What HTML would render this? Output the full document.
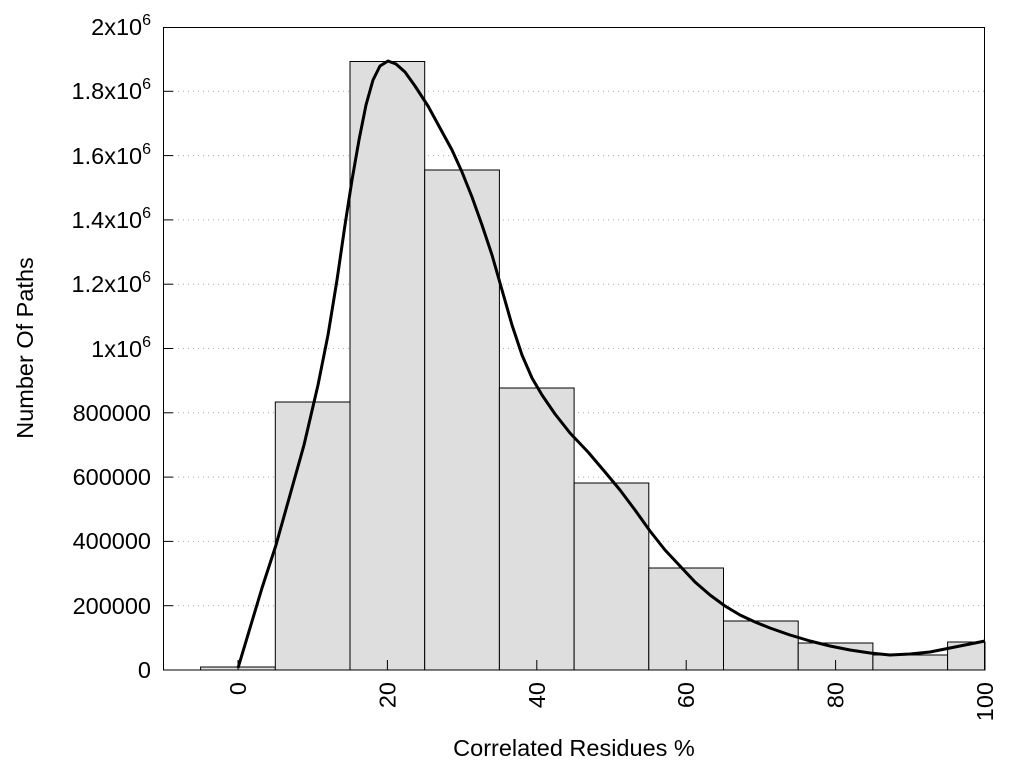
<!DOCTYPE html>
<html><head><meta charset="utf-8"><style>body{margin:0;background:#fff}svg{display:block}text{font-family:"Liberation Sans",sans-serif;fill:#000}</style></head><body>
<svg width="1024" height="768" xmlns="http://www.w3.org/2000/svg">
<g stroke="#aaa" stroke-width="1" stroke-dasharray="1,4">
<line x1="173" y1="605.7" x2="985" y2="605.7"/><line x1="173" y1="541.4" x2="985" y2="541.4"/><line x1="173" y1="477.1" x2="985" y2="477.1"/><line x1="173" y1="412.8" x2="985" y2="412.8"/><line x1="173" y1="348.5" x2="985" y2="348.5"/><line x1="173" y1="284.2" x2="985" y2="284.2"/><line x1="173" y1="219.9" x2="985" y2="219.9"/><line x1="173" y1="155.6" x2="985" y2="155.6"/><line x1="173" y1="91.3" x2="985" y2="91.3"/>
</g>
<g fill="#dedede" stroke="#000" stroke-width="1">
<rect x="200.6" y="667" width="74.7" height="3"/>
<rect x="275.3" y="402" width="74.7" height="268"/>
<rect x="350" y="61.5" width="74.7" height="608.5"/>
<rect x="424.7" y="170" width="74.7" height="500"/>
<rect x="499.4" y="388" width="74.7" height="282"/>
<rect x="574.1" y="483" width="74.7" height="187"/>
<rect x="648.8" y="568" width="74.7" height="102"/>
<rect x="723.5" y="621" width="74.7" height="49"/>
<rect x="798.2" y="643" width="74.7" height="27"/>
<rect x="872.9" y="655" width="74.7" height="15"/>
<rect x="947.6" y="642" width="37.4" height="28"/>
</g>
<polyline fill="none" stroke="#000" stroke-width="3" stroke-linejoin="round" points="238,668 250,628 262,588 276,545 290,495 304,445 318,385 328,335 337,280 345,225 352,180 359,140 366,105 373,80 380,66 388,61 396,64 405,72 415,86 428,106 440,128 452,150 462,172 472,197 482,225 492,255 502,290 512,325 522,355 532,378 542,395 555,414 570,433 588,452 605,472 620,490 635,510 650,531 665,550 680,566 695,582 710,595 725,606 740,615 755,622 770,628 790,635 810,641 830,646 850,650 870,653 890,655 910,654 930,652 950,648 970,644 985,641"/>
<rect x="163.5" y="27.5" width="821" height="642.5" fill="none" stroke="#000" stroke-width="1"/>
<g stroke="#000" stroke-width="1">
<line x1="163" y1="605.7" x2="173" y2="605.7"/><line x1="163" y1="541.4" x2="173" y2="541.4"/><line x1="163" y1="477.1" x2="173" y2="477.1"/><line x1="163" y1="412.8" x2="173" y2="412.8"/><line x1="163" y1="348.5" x2="173" y2="348.5"/><line x1="163" y1="284.2" x2="173" y2="284.2"/><line x1="163" y1="219.9" x2="173" y2="219.9"/><line x1="163" y1="155.6" x2="173" y2="155.6"/><line x1="163" y1="91.3" x2="173" y2="91.3"/>
<line x1="238" y1="670" x2="238" y2="660"/><line x1="387.4" y1="670" x2="387.4" y2="660"/><line x1="536.8" y1="670" x2="536.8" y2="660"/><line x1="686.2" y1="670" x2="686.2" y2="660"/><line x1="835.6" y1="670" x2="835.6" y2="660"/>
</g>
<g font-size="23.5" text-anchor="end">
<text x="151" y="678">0</text>
<text x="151" y="614">200000</text>
<text x="151" y="549">400000</text>
<text x="151" y="485">600000</text>
<text x="151" y="421">800000</text>
<text x="151" y="357">1x10<tspan dy="-10" font-size="16">6</tspan></text>
<text x="151" y="292">1.2x10<tspan dy="-10" font-size="16">6</tspan></text>
<text x="151" y="228">1.4x10<tspan dy="-10" font-size="16">6</tspan></text>
<text x="151" y="164">1.6x10<tspan dy="-10" font-size="16">6</tspan></text>
<text x="151" y="99">1.8x10<tspan dy="-10" font-size="16">6</tspan></text>
<text x="151" y="35">2x10<tspan dy="-10" font-size="16">6</tspan></text>
<text transform="translate(246,682) rotate(-90)">0</text>
<text transform="translate(395.4,682) rotate(-90)">20</text>
<text transform="translate(544.8,682) rotate(-90)">40</text>
<text transform="translate(694.2,682) rotate(-90)">60</text>
<text transform="translate(843.6,682) rotate(-90)">80</text>
<text transform="translate(993,682) rotate(-90)">100</text>
</g>
<text x="574" y="756" font-size="23.5" text-anchor="middle">Correlated Residues %</text>
<text transform="translate(33,348) rotate(-90)" font-size="23.5" text-anchor="middle">Number Of Paths</text>
</svg>
</body></html>
